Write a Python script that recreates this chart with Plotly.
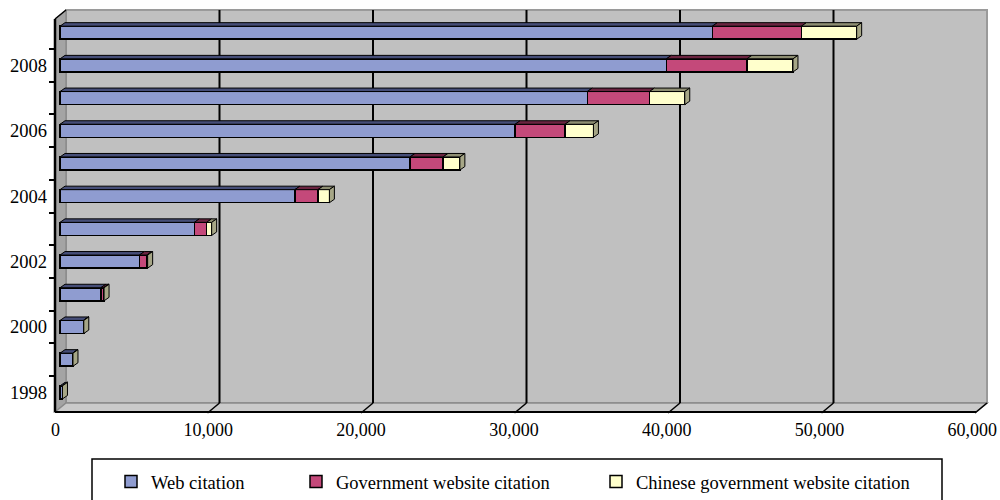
import plotly.graph_objects as go

# ---- data -------------------------------------------------------------
years = [1998, 1999, 2000, 2001, 2002, 2003, 2004, 2005, 2006, 2007, 2008, 2009]
web_citation = [150, 830, 1520, 2660, 5170, 8750, 15300, 22800, 29650, 34350, 39500, 42500]
gov_website_citation = [5, 10, 20, 170, 480, 800, 1500, 2150, 3250, 4050, 5250, 5800]
cn_gov_website_citation = [5, 5, 10, 40, 60, 330, 750, 1100, 1850, 2300, 3000, 3600]

series_names = ["Web citation", "Government website citation",
                "Chinese government website citation"]
x_tick_values = [0, 10000, 20000, 30000, 40000, 50000, 60000]
y_tick_values = [1998, 2000, 2002, 2004, 2006, 2008]

# ---- styling / geometry ------------------------------------------------
FONT = "Liberation Serif"
FONT_SIZE = 18.5
W, H = 1000, 500
ML, MR, MT, MB = 55, 13, 10, 88            # plot area = front plane + depth
PX_PER_UNIT = 0.01535                       # horizontal pixels per citation
BAR_SHIFT_PX = 5                            # bars sit slightly behind the front plane
LABEL_X0_PX = 55.5                          # x labels sit on the front plane
LABEL_PX_PER_UNIT = 0.01528
ROW_PX = 32.7                               # vertical pixels per year
TOP_ROW_PX = 32.7                           # pixel row of the last year
WALL_DEPTH = (11, -9)                       # 3-D depth of walls/floor (px)
BAR_DEPTH = (5, -3.5)                       # 3-D depth of each bar (px)
BAR_H = 0.4                                 # bar thickness in year units

face_colors = ["#8F9CD0", "#C4497A", "#FFFFCC"]
top_colors = ["#464E78", "#6B2440", "#8E8E72"]
side_color = "#A6A686"
wall_color = "#C0C0C0"
side_wall_color = "#A4A4A4"

PW, PH = W - ML - MR, H - MT - MB


def xd(px):
    """canvas pixel -> data x (bar plane)"""
    return (px - (ML + BAR_SHIFT_PX)) / PX_PER_UNIT


def yd(py):
    """canvas pixel -> data y (year)"""
    return years[-1] + (TOP_ROW_PX - py) / ROW_PX


def xp(px):
    return (px - ML) / PW


def yp(py):
    return (H - MB - py) / PH


series = [web_citation, gov_website_citation, cn_gov_website_citation]
legend_ids = ["legend", "legend2", "legend3"]

fig = go.Figure()

for vals, name, col, lg in zip(series, series_names, face_colors, legend_ids):
    fig.add_trace(go.Bar(
        y=years, x=vals, orientation="h", name=name, width=BAR_H,
        marker=dict(color=col, line=dict(color="black", width=1.5)),
        legend=lg,
    ))

# 3-D top and end faces of the stacked bars, built from the same values
ddx = BAR_DEPTH[0] / PX_PER_UNIT
ddy = -BAR_DEPTH[1] / ROW_PX
for k, (vals, tcol) in enumerate(zip(series, top_colors)):
    xs, ys = [], []
    for i, yr in enumerate(years):
        x0 = sum(s[i] for s in series[:k])
        x1 = x0 + vals[i]
        yt = yr + BAR_H / 2
        xs += [x0, x1, x1 + ddx, x0 + ddx, x0, None]
        ys += [yt, yt, yt + ddy, yt + ddy, yt, None]
    fig.add_trace(go.Scatter(
        x=xs, y=ys, mode="lines", fill="toself", fillcolor=tcol,
        line=dict(color="black", width=1), showlegend=False, hoverinfo="skip"))

xs, ys = [], []
for i, yr in enumerate(years):
    xt = sum(s[i] for s in series)
    yb, yt = yr - BAR_H / 2, yr + BAR_H / 2
    xs += [xt, xt, xt + ddx, xt + ddx, xt, None]
    ys += [yb, yt, yt + ddy, yb + ddy, yb, None]
fig.add_trace(go.Scatter(
    x=xs, y=ys, mode="lines", fill="toself", fillcolor=side_color,
    line=dict(color="black", width=1), showlegend=False, hoverinfo="skip"))

# ---- walls, floor and grid ---------------------------------------------
dxw, dyw = WALL_DEPTH
x_front0, x_front1 = ML, ML + 60000 * PX_PER_UNIT
y_floor = H - MB
y_top = MT


def path(points):
    return "M " + " L ".join(f"{xp(a)},{yp(b)}" for a, b in points) + " Z"


shapes = []
# back wall
shapes.append(dict(type="rect", xref="paper", yref="paper", layer="below",
                   x0=xp(x_front0 + dxw), x1=xp(x_front1 + dxw),
                   y0=yp(y_floor + dyw), y1=yp(y_top),
                   fillcolor=wall_color, line=dict(color="#9A9A9A", width=2)))
# left wall
shapes.append(dict(type="path", xref="paper", yref="paper", layer="below",
                   path=path([(x_front0, y_top - dyw), (x_front0 + dxw, y_top),
                              (x_front0 + dxw, y_floor + dyw), (x_front0, y_floor)]),
                   fillcolor=side_wall_color, line=dict(color="#808080", width=1)))
# floor
shapes.append(dict(type="path", xref="paper", yref="paper", layer="below",
                   path=path([(x_front0, y_floor), (x_front0 + dxw, y_floor + dyw),
                              (x_front1 + dxw, y_floor + dyw), (x_front1, y_floor)]),
                   fillcolor="#CACACA", line=dict(color="#8A8A8A", width=1.5)))
# gridlines on back wall + diagonal tick marks on floor
for t in x_tick_values[1:-1]:
    fx = ML + t * PX_PER_UNIT
    shapes.append(dict(type="line", xref="paper", yref="paper", layer="below",
                       x0=xp(fx + dxw), x1=xp(fx + dxw),
                       y0=yp(y_floor + dyw), y1=yp(y_top),
                       line=dict(color="black", width=2)))
for t in x_tick_values[1:]:
    fx = ML + t * PX_PER_UNIT
    shapes.append(dict(type="line", xref="paper", yref="paper", layer="below",
                       x0=xp(fx + dxw), x1=xp(fx - 1),
                       y0=yp(y_floor + dyw), y1=yp(y_floor + 1),
                       line=dict(color="black", width=1.5)))
# front edges (axis lines)
shapes.append(dict(type="line", xref="paper", yref="paper",
                   x0=xp(x_front0), x1=xp(x_front1), y0=yp(y_floor), y1=yp(y_floor),
                   line=dict(color="black", width=2)))
shapes.append(dict(type="line", xref="paper", yref="paper",
                   x0=xp(x_front0), x1=xp(x_front0), y0=yp(y_floor), y1=yp(y_top - dyw),
                   line=dict(color="black", width=2.5)))
shapes.append(dict(type="line", xref="paper", yref="paper",
                   x0=xp(x_front0), x1=xp(x_front0 + dxw), y0=yp(y_top - dyw), y1=yp(y_top),
                   line=dict(color="black", width=1.5)))
# legend frame
shapes.append(dict(type="rect", xref="paper", yref="paper",
                   x0=xp(92), x1=xp(942), y0=yp(459), y1=yp(510),
                   fillcolor="white", line=dict(color="black", width=1.5), layer="below"))

fig.update_layout(shapes=shapes)

# ---- axes ------------------------------------------------------------
fig.update_xaxes(
    range=[xd(ML), xd(W - MR)], showgrid=False, zeroline=False, showline=False,
    tickmode="array",
    tickvals=[xd(LABEL_X0_PX + t * LABEL_PX_PER_UNIT) for t in x_tick_values],
    ticktext=[f"{t:,}" for t in x_tick_values], ticks="", ticklabelstandoff=5,
    ticklabeloverflow="allow",
    tickfont=dict(family=FONT, size=18, color="black"), fixedrange=True,
)
fig.update_yaxes(
    range=[yd(H - MB), yd(MT)], showgrid=False, zeroline=False, showline=False,
    tickmode="array", tickvals=y_tick_values, ticktext=[str(y) for y in y_tick_values],
    ticks="", ticklabelstandoff=7,
    minor=dict(tickmode="array", tickvals=[y + 0.5 for y in years[:-1]],
               ticks="outside", ticklen=5, tickcolor="black", tickwidth=1.5),
    tickfont=dict(family=FONT, size=FONT_SIZE, color="black"), fixedrange=True,
)

legend_style = dict(orientation="h", xanchor="left", yanchor="middle",
                    bgcolor="rgba(0,0,0,0)", borderwidth=0,
                    font=dict(family=FONT, size=FONT_SIZE, color="black"))
fig.update_layout(
    width=W, height=H,
    margin=dict(l=ML, r=MR, t=MT, b=MB, autoexpand=False),
    barmode="stack",
    plot_bgcolor="white", paper_bgcolor="white",
    legend=dict(x=xp(111), y=yp(482), **legend_style),
    legend2=dict(x=xp(296), y=yp(482), **legend_style),
    legend3=dict(x=xp(596), y=yp(482), **legend_style),
)

fig.write_html("out.html")
